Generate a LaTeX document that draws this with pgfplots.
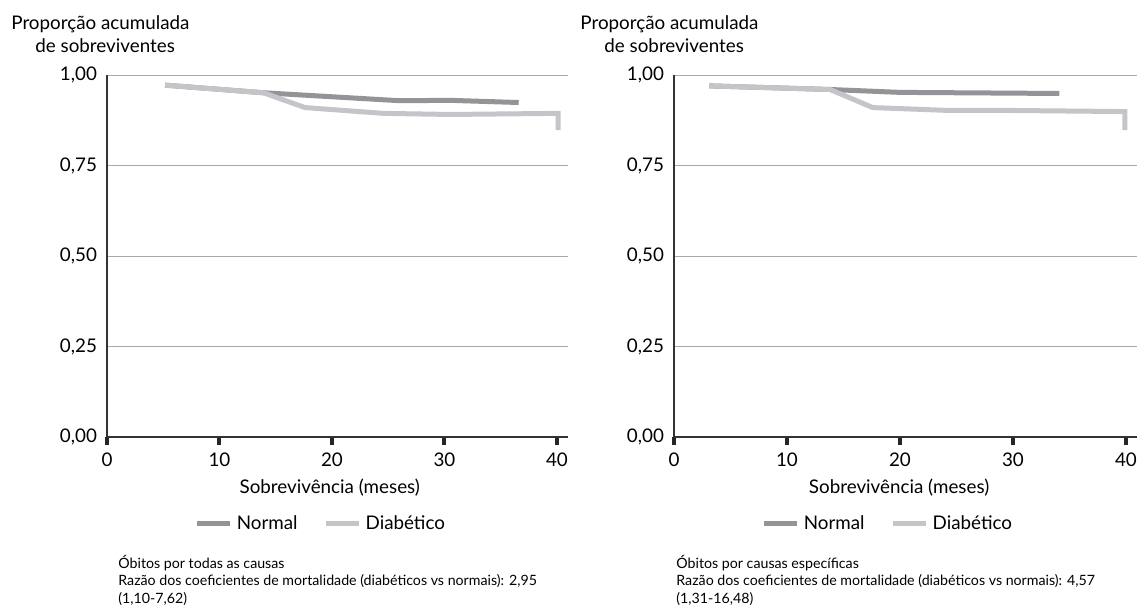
\documentclass[border=0pt]{standalone}
\usepackage{pgfplots}
\pgfplotsset{compat=1.18}
\usepackage{fontspec}
\setmainfont{Lato}
\definecolor{cnorm}{RGB}{147,147,152}
\definecolor{cdiab}{RGB}{196,196,201}
\definecolor{cgrid}{RGB}{170,170,170}
\newcommand{\bigf}{\fontsize{9.4pt}{11pt}\selectfont}
\newcommand{\smallf}{\fontsize{7.1pt}{8.5pt}\selectfont}
\pgfplotsset{kmstyle/.style={
  scale only axis, width=230.6pt, height=181pt,
  xmin=0, xmax=41, ymin=0, ymax=1,
  axis lines*=left,
  axis line style={draw=black!80, line width=0.8pt},
  xtick={0,10,20,30,40}, ytick={0,0.25,0.5,0.75,1},
  ymajorgrids, major grid style={cgrid, line width=0.5pt},
  ytick style={draw=none},
  xtick style={black!85, line width=2pt},
  tick align=outside, major tick length=4pt,
  tick label style={font=\bigf},
  yticklabel style={xshift=2.5pt, /pgf/number format/.cd, fixed, fixed zerofill, precision=2, use comma, assume math mode=true},
  xticklabel style={yshift=-0.5pt, /pgf/number format/assume math mode=true},
  clip=false,
  label style={font=\bigf},
  legend columns=2,
  legend style={draw=none, fill=none, font=\bigf, anchor=center,
    /tikz/every even column/.append style={column sep=11pt}},
  legend image code/.code={\draw[##1] (0pt,0pt) -- (16.5pt,0pt);},
  every axis plot/.append style={line width=2.5pt},
}}
\begin{document}
\begin{tikzpicture}
\useasboundingbox (0,0) rectangle (569pt,303.5pt);
% left panel
\begin{axis}[kmstyle, at={(53.5pt,85pt)}, anchor=origin,
  xlabel={Sobrevivência (meses)},
  xlabel style={at={(axis description cs:0.483,-0.155)}, anchor=base},
  legend style={at={(0.466,-0.240)}}]
\addplot[cnorm] coordinates {(5.16,0.972) (13.9,0.951) (26.0,0.929) (30.5,0.930) (36.6,0.924)};
\addlegendentry{Normal}
\addplot[cdiab] coordinates {(5.16,0.972) (13.9,0.951) (17.6,0.910) (24.6,0.894) (30.5,0.891) (40.1,0.894) (40.1,0.848)};
\addlegendentry{Diabético}
\end{axis}
% right panel
\begin{axis}[kmstyle, at={(337pt,85pt)}, anchor=origin, width=231.6pt,
  xlabel={Sobrevivência (meses)},
  xlabel style={at={(axis description cs:0.486,-0.155)}, anchor=base},
  legend style={at={(0.464,-0.240)}}]
\addplot[cnorm] coordinates {(3.12,0.970) (13.8,0.960) (20.0,0.952) (34.1,0.949)};
\addlegendentry{Normal}
\addplot[cdiab] coordinates {(3.12,0.970) (13.8,0.960) (17.6,0.910) (24.4,0.902) (30.0,0.902) (39.9,0.899) (39.9,0.848)};
\addlegendentry{Diabético}
\end{axis}
% y labels
\node[anchor=base west, font=\bigf, inner sep=0pt] at (5.5pt,289pt) {Proporção acumulada};
\node[anchor=base west, font=\bigf, inner sep=0pt] at (17.5pt,277.5pt) {de sobreviventes};
\node[anchor=base west, font=\bigf, inner sep=0pt] at (290pt,289pt) {Proporção acumulada};
\node[anchor=base west, font=\bigf, inner sep=0pt] at (302pt,277.5pt) {de sobreviventes};
% notes
\node[anchor=base west, font=\smallf, inner sep=0pt] at (59pt,19.5pt) {Óbitos por todas as causas};
\node[anchor=base west, font=\smallf, inner sep=0pt] at (59pt,10.75pt) {Razão dos coeficientes de mortalidade (diabéticos vs normais): 2,95};
\node[anchor=base west, font=\smallf, inner sep=0pt] at (59pt,2pt) {(1,10-7,62)};
\node[anchor=base west, font=\smallf, inner sep=0pt] at (338pt,19.5pt) {Óbitos por causas específicas};
\node[anchor=base west, font=\smallf, inner sep=0pt] at (338pt,10.75pt) {Razão dos coeficientes de mortalidade (diabéticos vs normais): 4,57};
\node[anchor=base west, font=\smallf, inner sep=0pt] at (338pt,2pt) {(1,31-16,48)};
\end{tikzpicture}
\end{document}
